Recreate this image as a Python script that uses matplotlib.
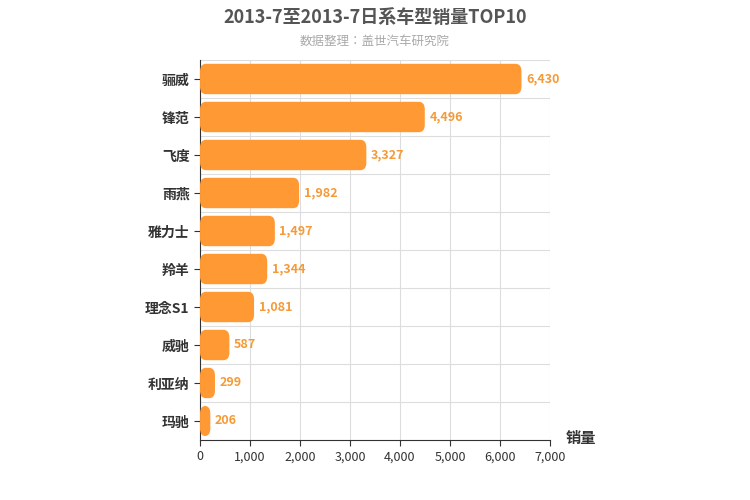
import matplotlib
matplotlib.use("Agg")
import matplotlib.pyplot as plt
from matplotlib import font_manager
from matplotlib.patches import FancyBboxPatch

cjk_name = None
for f in font_manager.findSystemFonts():
    if "CJK" in f and ("SC" in f or "ttc" in f.lower()):
        try:
            font_manager.fontManager.addfont(f)
        except Exception:
            pass
for fe in font_manager.fontManager.ttflist:
    if "CJK SC" in fe.name:
        cjk_name = fe.name
        break
if cjk_name is None:
    for fe in font_manager.fontManager.ttflist:
        if "CJK" in fe.name:
            cjk_name = fe.name
            break
plt.rcParams["font.family"] = "sans-serif"
plt.rcParams["font.sans-serif"] = [cjk_name or "Noto Sans CJK SC", "DejaVu Sans"]

categories = ["骊威", "锋范", "飞度", "雨燕", "雅力士", "羚羊", "理念S1", "威驰", "利亚纳", "玛驰"]
values = [6430, 4496, 3327, 1982, 1497, 1344, 1081, 587, 299, 206]
xticks = [0, 1000, 2000, 3000, 4000, 5000, 6000, 7000]

fig = plt.figure(figsize=(7.5, 5), dpi=100)
ax = fig.add_axes([0.2667, 0.12, 0.4666, 0.76])
n = len(categories)
ax.set_xlim(0, 7000)
ax.set_ylim(n - 0.5, -0.5)
color = "#FF9933"
for i, v in enumerate(values):
    h = 0.8
    p = FancyBboxPatch((0, i - h / 2), v, h, boxstyle="round,pad=0,rounding_size=120",
                       mutation_aspect=0.2 / 120, fc=color, ec="none", zorder=3)
    ax.add_patch(p)
    ax.text(v + 90, i, f"{v:,}", va="center", ha="left", color="#F59A36",
            fontsize=9, fontweight="bold", zorder=4)

ax.set_xticks(xticks)
ax.set_xticklabels([f"{x:,}" for x in xticks], fontsize=9, color="#333333")
ax.set_yticks(range(n))
ax.set_yticklabels(categories, fontsize=10, fontweight="bold", color="#333333")
for x in xticks[1:]:
    ax.axvline(x, color="#DDDDDD", lw=0.8, zorder=1)
for b in range(n):
    ax.axhline(b - 0.5, color="#DDDDDD", lw=0.8, zorder=1)
for s in ["top", "right"]:
    ax.spines[s].set_visible(False)
ax.spines["left"].set_color("#333333")
ax.spines["bottom"].set_color("#333333")
ax.tick_params(axis="both", length=4, color="#333333")

fig.text(0.5, 0.965, "2013-7至2013-7日系车型销量TOP10", ha="center", va="center",
         fontsize=13, fontweight="bold", color="#555555")
fig.text(0.5, 0.918, "数据整理：盖世汽车研究院", ha="center", va="center",
         fontsize=9, color="#AAAAAA")
fig.text(0.775, 0.123, "销量", ha="center", va="center", fontsize=11,
         fontweight="bold", color="#333333")

fig.savefig("out.png", dpi=100)
